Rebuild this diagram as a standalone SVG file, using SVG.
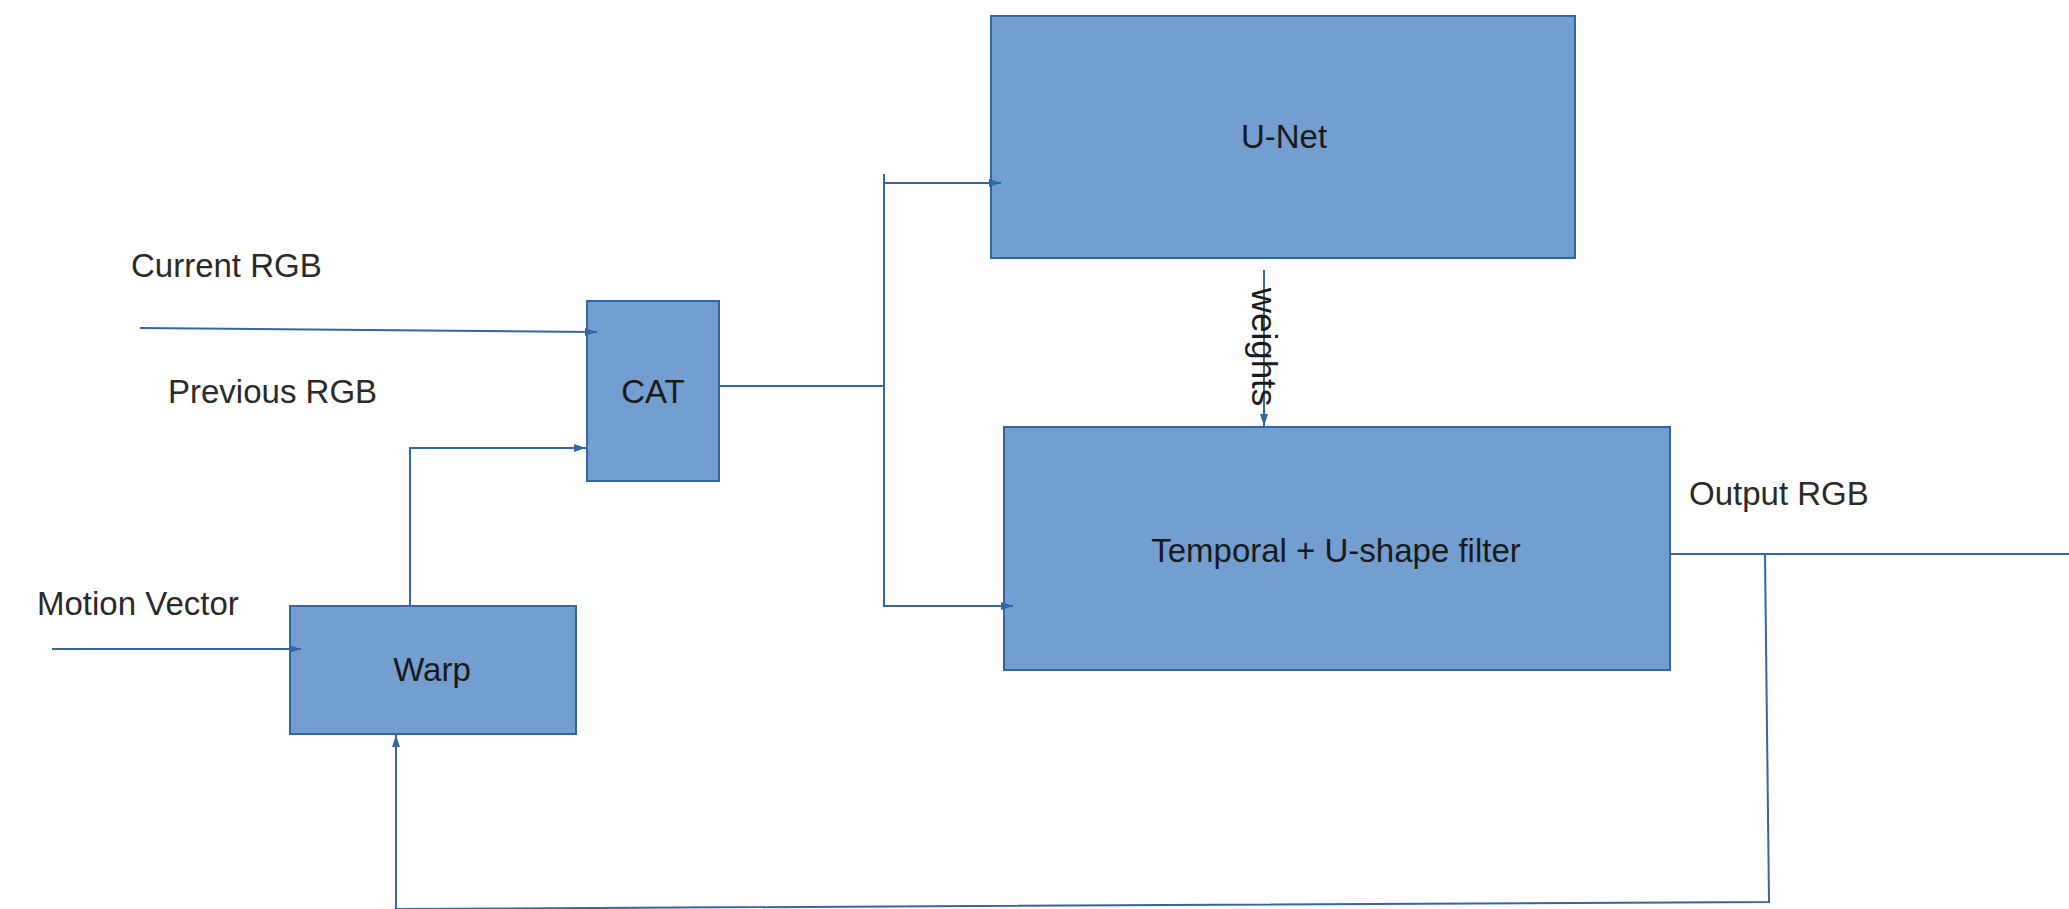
<svg xmlns="http://www.w3.org/2000/svg" width="2069" height="909" viewBox="0 0 2069 909">
<style>
.box{fill:#729fcf;stroke:#3465a4;stroke-width:2}
.lbl{font-family:"Liberation Sans",Arial,sans-serif;font-size:33px;fill:#1a1a1a}
.in{font-family:"Liberation Sans",Arial,sans-serif;font-size:33px;fill:#2a2a2a}
.c{fill:none;stroke:#3465a4;stroke-width:2}
</style>
<defs>
<marker id="ah" viewBox="0 0 12 8" refX="12" refY="4" markerWidth="12" markerHeight="8" markerUnits="userSpaceOnUse" orient="auto">
<path d="M0,0 L12,4 L0,8 z" fill="#3465a4"/>
</marker>
</defs>
<rect width="2069" height="909" fill="#ffffff"/>
<g id="label-current"><text class="in" x="131" y="277">Current RGB</text></g>
<g id="label-previous"><text class="in" x="168" y="403">Previous RGB</text></g>
<g id="label-motion"><text class="in" x="37" y="615">Motion Vector</text></g>
<g id="label-output"><text class="in" x="1689" y="505">Output RGB</text></g>
<g id="cat"><rect class="box" x="587" y="301" width="132" height="180"/><text class="lbl" x="653" y="403" text-anchor="middle">CAT</text></g>
<g id="warp"><rect class="box" x="290" y="606" width="286" height="128"/><text class="lbl" x="432" y="681" text-anchor="middle">Warp</text></g>
<g id="unet"><rect class="box" x="991" y="16" width="584" height="242"/><text class="lbl" x="1284" y="148" text-anchor="middle">U-Net</text></g>
<g id="temporal"><rect class="box" x="1004" y="427" width="666" height="243"/><text class="lbl" x="1336" y="562" text-anchor="middle">Temporal + U-shape filter</text></g>
<g id="connectors">
<path class="c" d="M140,328 L597,332" marker-end="url(#ah)"/>
<path class="c" d="M410,606 L410,448 L586,448" marker-end="url(#ah)"/>
<path class="c" d="M52,649 L301,649" marker-end="url(#ah)"/>
<path class="c" d="M719,386 L884,386"/>
<path class="c" d="M884,174 L884,606 L1013,606" marker-end="url(#ah)"/>
<path class="c" d="M884,183 L1001,183" marker-end="url(#ah)"/>
<path class="c" d="M1264,270 L1264,426" marker-end="url(#ah)"/>
<path class="c" d="M1670,554 L2069,554"/>
<path class="c" d="M1765,554 L1769,902 L396,909 L396,735" marker-end="url(#ah)"/>
<text class="lbl" style="font-size:35px" transform="translate(1252,347) rotate(90)" text-anchor="middle">weights</text>
</g>
</svg>
